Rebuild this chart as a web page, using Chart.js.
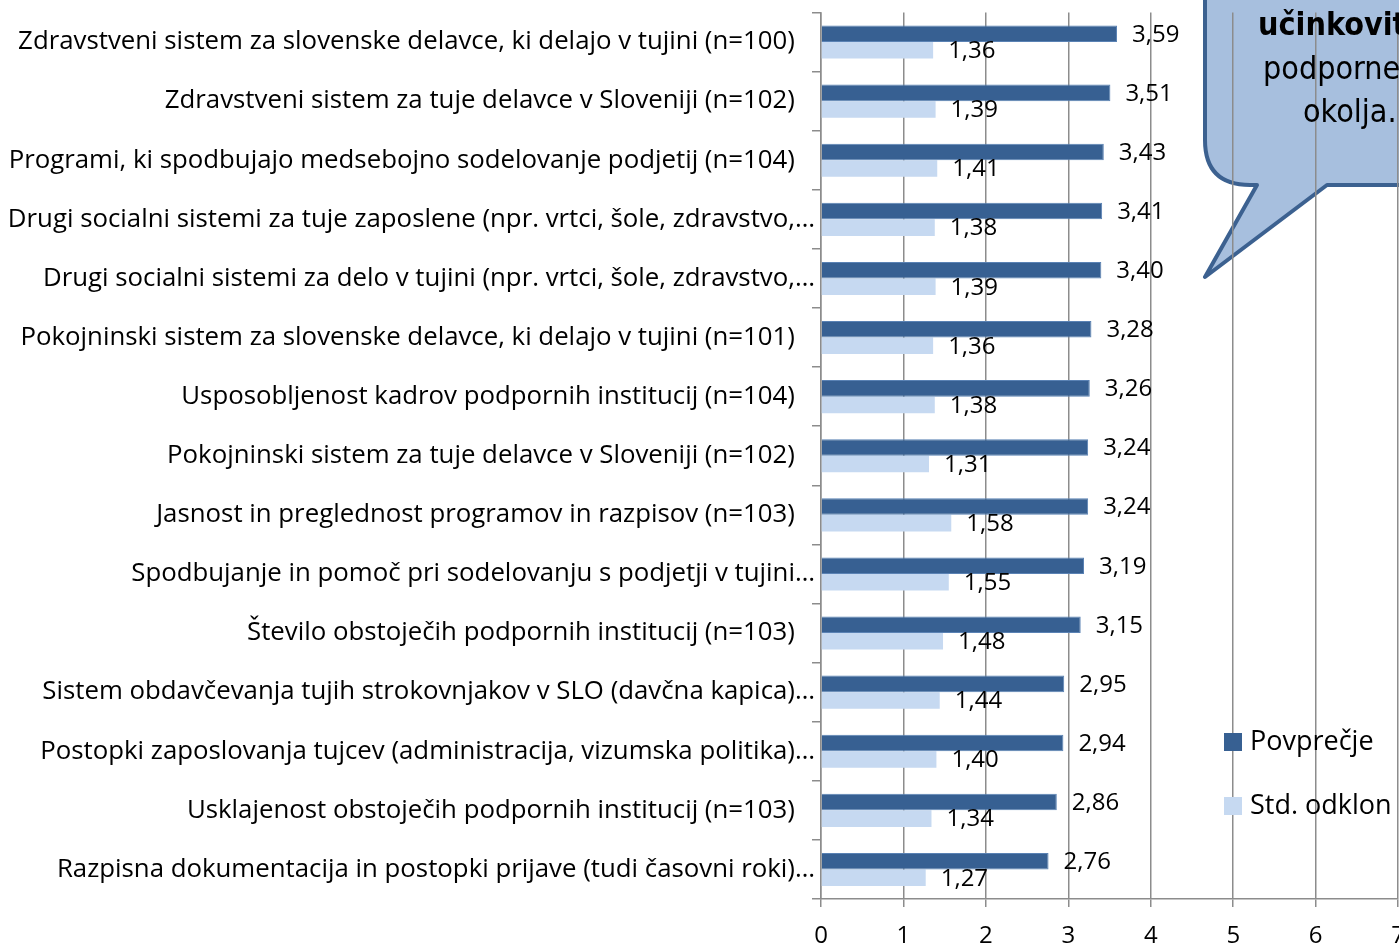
<!DOCTYPE html>
<html>
<head>
<meta charset="utf-8">
<script src="https://cdn.jsdelivr.net/npm/chart.js@4.4.1/dist/chart.umd.min.js"></script>
<style>
  html, body { margin: 0; padding: 0; background: #fff; overflow: hidden; }
</style>
</head>
<body>
<canvas id="myChart" width="1420" height="943"></canvas>
<script>
const categories = [
  "Zdravstveni sistem za slovenske delavce, ki delajo v tujini (n=100)",
  "Zdravstveni sistem za tuje delavce v Sloveniji (n=102)",
  "Programi, ki spodbujajo medsebojno sodelovanje podjetij (n=104)",
  "Drugi socialni sistemi za tuje zaposlene (npr. vrtci, šole, zdravstvo,…",
  "Drugi socialni sistemi za delo v tujini (npr. vrtci, šole, zdravstvo,…",
  "Pokojninski sistem za slovenske delavce, ki delajo v tujini (n=101)",
  "Usposobljenost kadrov podpornih institucij (n=104)",
  "Pokojninski sistem za tuje delavce v Sloveniji (n=102)",
  "Jasnost in preglednost programov in razpisov (n=103)",
  "Spodbujanje in pomoč pri sodelovanju s podjetji v tujini…",
  "Število obstoječih podpornih institucij (n=103)",
  "Sistem obdavčevanja tujih strokovnjakov v SLO (davčna kapica)…",
  "Postopki zaposlovanja tujcev (administracija, vizumska politika)…",
  "Usklajenost obstoječih podpornih institucij (n=103)",
  "Razpisna dokumentacija in postopki prijave (tudi časovni roki)…"
];
const meanValues = [3.59, 3.51, 3.43, 3.41, 3.40, 3.28, 3.26, 3.24, 3.24, 3.19, 3.15, 2.95, 2.94, 2.86, 2.76];
const stdValues = [1.36, 1.39, 1.41, 1.38, 1.39, 1.36, 1.38, 1.31, 1.58, 1.55, 1.48, 1.44, 1.40, 1.34, 1.27];
const seriesNames = ["Povprečje", "Std. odklon"];
const xTicks = [0, 1, 2, 3, 4, 5, 6, 7];
const calloutLines = ["učinkovito", "podporne", "okolja."];

const FONT = '"Open Sans", "Noto Sans", sans-serif';
const DARK = "#376092";
const LIGHT = "#c6d9f1";
const GRID = "#8c8c8c";

// bubble shape behind grid, its text on top (text runs off the right edge)
const callout = {
  id: "callout",
  beforeDraw(chart) {
    const ctx = chart.ctx;
    ctx.save();
    ctx.beginPath();
    ctx.moveTo(1205, -10);
    ctx.lineTo(1205, 140);
    ctx.quadraticCurveTo(1205, 185, 1250, 185);
    ctx.lineTo(1257, 185);
    ctx.lineTo(1205, 277);
    ctx.lineTo(1327, 185);
    ctx.lineTo(1440, 185);
    ctx.lineTo(1440, -10);
    ctx.closePath();
    ctx.fillStyle = "#a7bfde";
    ctx.fill();
    ctx.lineWidth = 4;
    ctx.lineJoin = "round";
    ctx.strokeStyle = "#3c6190";
    ctx.stroke();
    ctx.restore();
  },
  afterDraw(chart) {
    const ctx = chart.ctx;
    const starts = [1258, 1263, 1303];
    ctx.save();
    ctx.fillStyle = "#000";
    ctx.textAlign = "left";
    ctx.textBaseline = "alphabetic";
    calloutLines.forEach((line, i) => {
      ctx.font = (i === 0 ? "bold " : "") + '32px "DejaVu Sans Condensed", sans-serif';
      ctx.fillText(line, starts[i], 35 + i * 43.5);
    });
    ctx.restore();
  }
};

const valueLabels = {
  id: "valueLabels",
  afterDatasetsDraw(chart) {
    const ctx = chart.ctx;
    ctx.save();
    ctx.font = "24px " + FONT;
    ctx.fillStyle = "#000";
    ctx.textAlign = "left";
    ctx.textBaseline = "middle";
    chart.data.datasets.forEach((ds, i) => {
      chart.getDatasetMeta(i).data.forEach((bar, j) => {
        ctx.fillText(ds.data[j].toFixed(2).replace(".", ","), bar.x + 15, bar.y + 1);
      });
    });
    ctx.restore();
  }
};

const sideLegend = {
  id: "sideLegend",
  afterDraw(chart) {
    const ctx = chart.ctx;
    ctx.save();
    ctx.font = "27px " + FONT;
    ctx.textAlign = "left";
    ctx.textBaseline = "middle";
    chart.data.datasets.forEach((ds, i) => {
      const y = 742 + i * 64;
      ctx.fillStyle = ds.backgroundColor;
      ctx.fillRect(1224, y - 9, 18, 18);
      ctx.fillStyle = "#000";
      ctx.fillText(ds.label, 1250, y);
    });
    ctx.restore();
  }
};

const data = {
  labels: categories,
  datasets: [
    {
      label: seriesNames[0],
      data: meanValues,
      backgroundColor: DARK,
      borderColor: "#5a82b4",
      borderWidth: 1,
      categoryPercentage: 0.56,
      barPercentage: 1.0
    },
    {
      label: seriesNames[1],
      data: stdValues,
      backgroundColor: LIGHT,
      borderWidth: 0,
      categoryPercentage: 0.56,
      barPercentage: 1.0
    }
  ]
};

const config = {
  type: "bar",
  data: data,
  options: {
    indexAxis: "y",
    responsive: false,
    animation: false,
    devicePixelRatio: 1,
    layout: { padding: { left: 10, top: 10, right: 0, bottom: 0 } },
    plugins: {
      legend: { display: false },
      tooltip: { enabled: false }
    },
    scales: {
      x: {
        min: 0,
        max: 7,
        afterBuildTicks: (s) => { s.ticks = xTicks.map(v => ({ value: v })); },
        afterFit: (s) => { s.height = 44; },
        grid: { color: GRID, lineWidth: 1.5, tickLength: 8 },
        border: { color: GRID, width: 1.5 },
        ticks: { color: "#000", font: { family: FONT, size: 24 }, padding: 15 }
      },
      y: {
        afterFit: (s) => { s.width = 811; },
        grid: { drawOnChartArea: false, color: GRID, lineWidth: 1.5, tickLength: 9, offset: true },
        border: { color: GRID, width: 1.5 },
        ticks: {
          color: "#000",
          font: { family: FONT, size: 25.8 },
          padding: -3,
          autoSkip: false,
          callback: function (v) {
            const l = this.getLabelForValue(v);
            return l.endsWith("…") ? l : l + "   ";
          }
        }
      }
    }
  },
  plugins: [callout, valueLabels, sideLegend]
};

new Chart(document.getElementById("myChart"), config);
</script>
</body>
</html>
